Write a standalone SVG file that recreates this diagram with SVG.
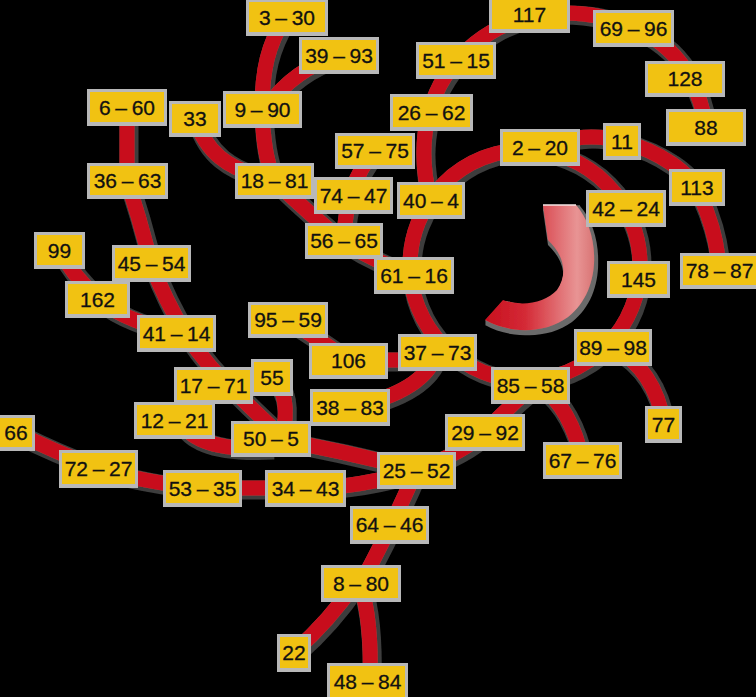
<svg xmlns="http://www.w3.org/2000/svg" width="756" height="697" viewBox="0 0 756 697">
<style>
.frame{fill:#b8b8b8}
.box{fill:#f1c212}
.lbl{font-family:"Liberation Sans",Arial,sans-serif;font-size:21px;word-spacing:-1.2px;fill:#111;stroke:#111;stroke-width:0.3;text-anchor:middle;dominant-baseline:central}
.edge{fill:none;stroke:#c8101e;stroke-width:15}
</style>
<defs>
<filter id="sh" x="-10%" y="-10%" width="120%" height="120%">
<feMorphology in="SourceAlpha" operator="dilate" radius="1.5" result="d"/>
<feOffset in="d" dx="2" dy="2" result="o"/>
<feFlood flood-color="#3c3c3c"/>
<feComposite in2="o" operator="in" result="s"/>
<feMerge><feMergeNode in="s"/><feMergeNode in="SourceGraphic"/></feMerge>
</filter>
<filter id="ash" x="-20%" y="-20%" width="140%" height="140%">
<feMorphology in="SourceAlpha" operator="dilate" radius="2" result="d"/>
<feOffset in="d" dx="2" dy="3" result="o"/>
<feFlood flood-color="#6a6a6a"/>
<feComposite in2="o" operator="in" result="s"/>
<feMerge><feMergeNode in="s"/><feMergeNode in="SourceGraphic"/></feMerge>
</filter>
<linearGradient id="ag" x1="485" y1="0" x2="600" y2="0" gradientUnits="userSpaceOnUse">
<stop offset="0" stop-color="#c80f1e"/>
<stop offset="0.35" stop-color="#d42a36"/>
<stop offset="0.8" stop-color="#e89494"/>
<stop offset="1" stop-color="#d46a6a"/>
</linearGradient>
</defs>
<rect width="756" height="697" fill="#000"/>
<g id="connectors" class="edge" filter="url(#sh)">
<circle cx="525" cy="265" r="115"/>
<path d="M285,17 C268,45 262,70 262,109"/>
<path d="M339,55 C310,65 285,80 266,109"/>
<path d="M262,109 C263,140 266,160 274,180"/>
<path d="M195,118 C205,150 225,170 274,180"/>
<path d="M127,107 L127,180"/>
<path d="M127,180 Q140,220 151,263 Q165,300 185,333 Q210,370 235,392 Q255,412 280,435"/>
<path d="M60,250 Q72,275 95,295 Q115,318 177,333"/>
<path d="M272,377 Q292,395 282,438"/>
<path d="M180,420 Q195,452 270,448"/>
<path d="M270,438 Q340,450 416,470"/>
<path d="M15,432 Q55,452 98,468 Q140,482 202,488 L305,488 Q360,488 416,470"/>
<path d="M416,470 Q395,520 361,583"/>
<path d="M355,583 Q330,620 294,652"/>
<path d="M360,583 Q372,620 370,682"/>
<path d="M416,470 Q465,452 485,432 Q510,405 535,385"/>
<path d="M540,385 Q572,410 582,460"/>
<path d="M613,347 Q655,370 664,424"/>
<path d="M540,147 C570,135 600,135 622,141 C660,152 690,172 700,195 C712,222 718,245 719,270"/>
<path d="M430,200 C420,160 422,120 440,85 C465,40 510,14 560,13 C615,12 668,35 690,78 Q702,100 706,127"/>
<path d="M274,180 Q310,215 344,242 Q375,262 414,275"/>
<path d="M375,150 Q345,185 344,240"/>
<path d="M288,320 Q320,340 348,360 L437,360"/>
<path d="M437,352 Q425,392 350,407"/>
</g>
<g id="rotation-arrow" filter="url(#ash)">
<path d="M543,205 L576,205 C600,232 603,290 568,317 C545,334 510,334 485,320 L503,300 C522,307 545,303 557,290 C567,276 566,257 548,240 Z" fill="url(#ag)"/>
<path d="M543,205 L576,205" stroke="#f4e6e6" stroke-width="1.5"/>
</g>
<g id="n3_30"><rect class="frame" x="246" y="-1" width="82" height="37"/><rect class="box" x="249" y="2" width="76" height="30"/><text class="lbl" x="287" y="17">3 – 30</text></g>
<g id="n39_93"><rect class="frame" x="299" y="37" width="80" height="37"/><rect class="box" x="302" y="40" width="74" height="30"/><text class="lbl" x="339" y="55">39 – 93</text></g>
<g id="n6_60"><rect class="frame" x="87" y="89" width="80" height="37"/><rect class="box" x="90" y="92" width="74" height="30"/><text class="lbl" x="127" y="107">6 – 60</text></g>
<g id="n33"><rect class="frame" x="169" y="101" width="52" height="36"/><rect class="box" x="172" y="104" width="46" height="29"/><text class="lbl" x="195" y="118.5">33</text></g>
<g id="n9_90"><rect class="frame" x="223" y="91" width="79" height="37"/><rect class="box" x="226" y="94" width="73" height="30"/><text class="lbl" x="262.5" y="109">9 – 90</text></g>
<g id="n36_63"><rect class="frame" x="87" y="163" width="81" height="36"/><rect class="box" x="90" y="166" width="75" height="29"/><text class="lbl" x="127.5" y="180.5">36 – 63</text></g>
<g id="n18_81"><rect class="frame" x="235" y="163" width="79" height="36"/><rect class="box" x="238" y="166" width="73" height="29"/><text class="lbl" x="274.5" y="180.5">18 – 81</text></g>
<g id="n57_75"><rect class="frame" x="335" y="133" width="80" height="36"/><rect class="box" x="338" y="136" width="74" height="29"/><text class="lbl" x="375" y="150.5">57 – 75</text></g>
<g id="n74_47"><rect class="frame" x="314" y="177" width="79" height="37"/><rect class="box" x="317" y="180" width="73" height="30"/><text class="lbl" x="353.5" y="195">74 – 47</text></g>
<g id="n56_65"><rect class="frame" x="305" y="223" width="78" height="36"/><rect class="box" x="308" y="226" width="72" height="29"/><text class="lbl" x="344" y="240.5">56 – 65</text></g>
<g id="n61_16"><rect class="frame" x="374" y="257" width="80" height="37"/><rect class="box" x="377" y="260" width="74" height="30"/><text class="lbl" x="414" y="275">61 – 16</text></g>
<g id="n40_4"><rect class="frame" x="397" y="182" width="68" height="37"/><rect class="box" x="400" y="185" width="62" height="30"/><text class="lbl" x="431" y="200">40 – 4</text></g>
<g id="n26_62"><rect class="frame" x="390" y="94" width="83" height="37"/><rect class="box" x="393" y="97" width="77" height="30"/><text class="lbl" x="431.5" y="112">26 – 62</text></g>
<g id="n51_15"><rect class="frame" x="416" y="42" width="80" height="37"/><rect class="box" x="419" y="45" width="74" height="30"/><text class="lbl" x="456" y="60">51 – 15</text></g>
<g id="n117"><rect class="frame" x="489" y="-3" width="81" height="36"/><rect class="box" x="492" y="0" width="75" height="29"/><text class="lbl" x="529.5" y="14.5">117</text></g>
<g id="n69_96"><rect class="frame" x="593" y="10" width="81" height="37"/><rect class="box" x="596" y="13" width="75" height="30"/><text class="lbl" x="633.5" y="28">69 – 96</text></g>
<g id="n128"><rect class="frame" x="645" y="61" width="80" height="36"/><rect class="box" x="648" y="64" width="74" height="29"/><text class="lbl" x="685" y="78.5">128</text></g>
<g id="n88"><rect class="frame" x="666" y="109" width="80" height="37"/><rect class="box" x="669" y="112" width="74" height="30"/><text class="lbl" x="706" y="127">88</text></g>
<g id="n2_20"><rect class="frame" x="500" y="129" width="80" height="37"/><rect class="box" x="503" y="132" width="74" height="30"/><text class="lbl" x="540" y="147">2 – 20</text></g>
<g id="n11"><rect class="frame" x="603" y="123" width="38" height="37"/><rect class="box" x="606" y="126" width="32" height="30"/><text class="lbl" x="622" y="141">11</text></g>
<g id="n113"><rect class="frame" x="669" y="169" width="56" height="37"/><rect class="box" x="672" y="172" width="50" height="30"/><text class="lbl" x="697" y="187">113</text></g>
<g id="n42_24"><rect class="frame" x="586" y="190" width="80" height="37"/><rect class="box" x="589" y="193" width="74" height="30"/><text class="lbl" x="626" y="208">42 – 24</text></g>
<g id="n78_87"><rect class="frame" x="680" y="253" width="79" height="36"/><rect class="box" x="683" y="256" width="73" height="29"/><text class="lbl" x="719.5" y="270.5">78 – 87</text></g>
<g id="n145"><rect class="frame" x="607" y="261" width="63" height="37"/><rect class="box" x="610" y="264" width="57" height="30"/><text class="lbl" x="638.5" y="279">145</text></g>
<g id="n89_98"><rect class="frame" x="574" y="329" width="78" height="37"/><rect class="box" x="577" y="332" width="72" height="30"/><text class="lbl" x="613" y="347">89 – 98</text></g>
<g id="n77"><rect class="frame" x="645" y="406" width="37" height="37"/><rect class="box" x="648" y="409" width="31" height="30"/><text class="lbl" x="663.5" y="424">77</text></g>
<g id="n85_58"><rect class="frame" x="491" y="367" width="79" height="37"/><rect class="box" x="494" y="370" width="73" height="30"/><text class="lbl" x="530.5" y="385">85 – 58</text></g>
<g id="n37_73"><rect class="frame" x="398" y="334" width="79" height="37"/><rect class="box" x="401" y="337" width="73" height="30"/><text class="lbl" x="437.5" y="352">37 – 73</text></g>
<g id="n29_92"><rect class="frame" x="445" y="414" width="80" height="37"/><rect class="box" x="448" y="417" width="74" height="30"/><text class="lbl" x="485" y="432">29 – 92</text></g>
<g id="n67_76"><rect class="frame" x="543" y="442" width="79" height="37"/><rect class="box" x="546" y="445" width="73" height="30"/><text class="lbl" x="582.5" y="460">67 – 76</text></g>
<g id="n25_52"><rect class="frame" x="377" y="452" width="79" height="37"/><rect class="box" x="380" y="455" width="73" height="30"/><text class="lbl" x="416.5" y="470">25 – 52</text></g>
<g id="n38_83"><rect class="frame" x="310" y="389" width="80" height="37"/><rect class="box" x="313" y="392" width="74" height="30"/><text class="lbl" x="350" y="407">38 – 83</text></g>
<g id="n106"><rect class="frame" x="309" y="343" width="79" height="36"/><rect class="box" x="312" y="346" width="73" height="29"/><text class="lbl" x="348.5" y="360.5">106</text></g>
<g id="n95_59"><rect class="frame" x="248" y="302" width="80" height="36"/><rect class="box" x="251" y="305" width="74" height="29"/><text class="lbl" x="288" y="319.5">95 – 59</text></g>
<g id="n99"><rect class="frame" x="34" y="232" width="51" height="37"/><rect class="box" x="37" y="235" width="45" height="30"/><text class="lbl" x="59.5" y="250">99</text></g>
<g id="n45_54"><rect class="frame" x="112" y="245" width="79" height="37"/><rect class="box" x="115" y="248" width="73" height="30"/><text class="lbl" x="151.5" y="263">45 – 54</text></g>
<g id="n162"><rect class="frame" x="65" y="281" width="65" height="37"/><rect class="box" x="68" y="284" width="59" height="30"/><text class="lbl" x="97.5" y="299">162</text></g>
<g id="n41_14"><rect class="frame" x="137" y="315" width="79" height="37"/><rect class="box" x="140" y="318" width="73" height="30"/><text class="lbl" x="176.5" y="333">41 – 14</text></g>
<g id="n17_71"><rect class="frame" x="174" y="367" width="79" height="37"/><rect class="box" x="177" y="370" width="73" height="30"/><text class="lbl" x="213.5" y="385">17 – 71</text></g>
<g id="n55"><rect class="frame" x="251" y="359" width="42" height="37"/><rect class="box" x="254" y="362" width="36" height="30"/><text class="lbl" x="272" y="377">55</text></g>
<g id="n12_21"><rect class="frame" x="134" y="402" width="81" height="37"/><rect class="box" x="137" y="405" width="75" height="30"/><text class="lbl" x="174.5" y="420">12 – 21</text></g>
<g id="n50_5"><rect class="frame" x="231" y="421" width="80" height="36"/><rect class="box" x="234" y="424" width="74" height="29"/><text class="lbl" x="271" y="438.5">50 – 5</text></g>
<g id="n66"><rect class="frame" x="-3" y="415" width="38" height="36"/><rect class="box" x="0" y="418" width="32" height="29"/><text class="lbl" x="16" y="432.5">66</text></g>
<g id="n72_27"><rect class="frame" x="59" y="450" width="79" height="38"/><rect class="box" x="62" y="453" width="73" height="31"/><text class="lbl" x="98.5" y="468.5">72 – 27</text></g>
<g id="n53_35"><rect class="frame" x="163" y="470" width="79" height="37"/><rect class="box" x="166" y="473" width="73" height="30"/><text class="lbl" x="202.5" y="488">53 – 35</text></g>
<g id="n34_43"><rect class="frame" x="265" y="470" width="81" height="37"/><rect class="box" x="268" y="473" width="75" height="30"/><text class="lbl" x="305.5" y="488">34 – 43</text></g>
<g id="n64_46"><rect class="frame" x="350" y="506" width="79" height="38"/><rect class="box" x="353" y="509" width="73" height="31"/><text class="lbl" x="389.5" y="524.5">64 – 46</text></g>
<g id="n8_80"><rect class="frame" x="321" y="565" width="80" height="37"/><rect class="box" x="324" y="568" width="74" height="30"/><text class="lbl" x="361" y="583">8 – 80</text></g>
<g id="n22"><rect class="frame" x="277" y="634" width="34" height="38"/><rect class="box" x="280" y="637" width="28" height="31"/><text class="lbl" x="294" y="652.5">22</text></g>
<g id="n48_84"><rect class="frame" x="327" y="663" width="81" height="38"/><rect class="box" x="330" y="666" width="75" height="31"/><text class="lbl" x="367.5" y="681.5">48 – 84</text></g>
</svg>
